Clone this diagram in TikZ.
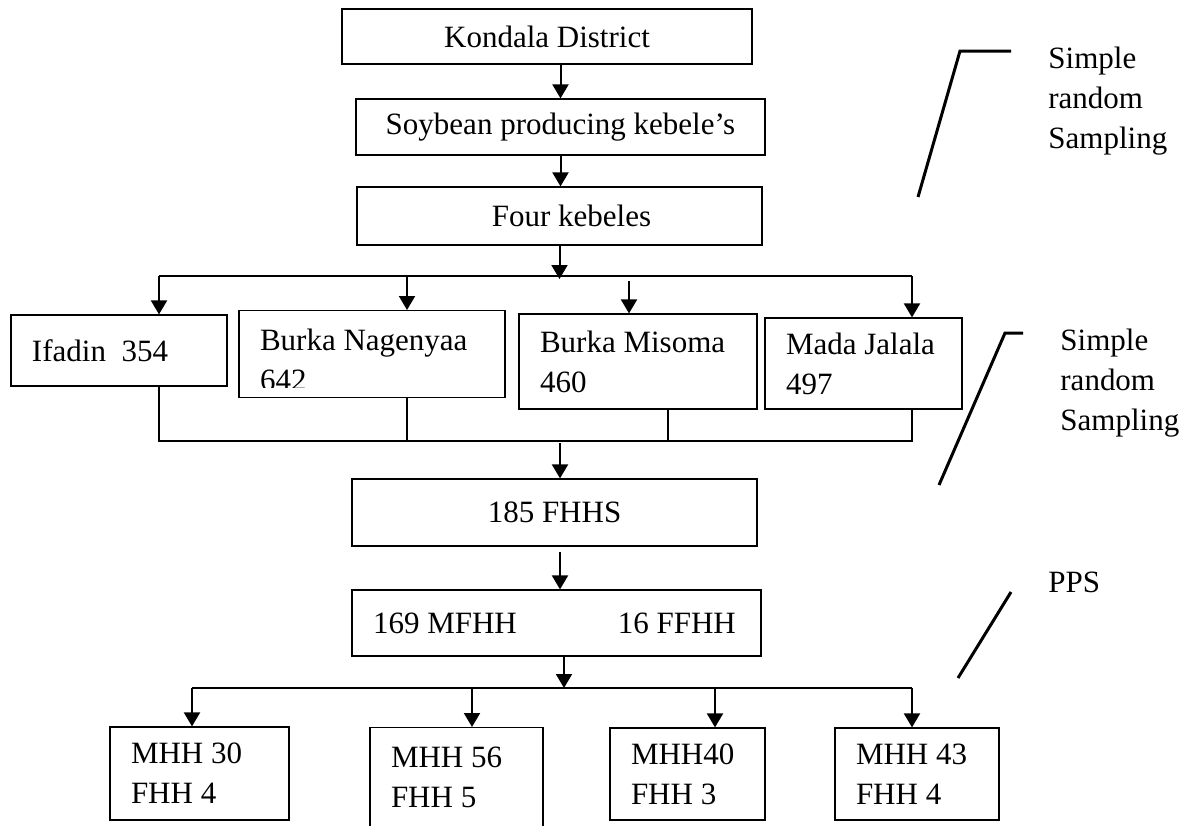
\documentclass[tikz,border=0pt]{standalone}
\usepackage{fontspec}
\setmainfont{Liberation Serif}
\usetikzlibrary{arrows.meta}

\begin{document}
\begin{tikzpicture}[x=0.5pt, y=-0.5pt]
    % Define styles
    \tikzstyle{every node} = [font=\fontsize{15.5}{20}\selectfont]
    \tikzstyle{block} = [rectangle, draw, line width=0.6pt, text centered, inner sep=0pt]
    \tikzstyle{lblock} = [rectangle, draw, line width=0.6pt, align=left, inner xsep=10.5pt, inner ysep=0pt,
        execute at begin node={\spaceskip=0pt\xspaceskip=0pt\relax}]
    \tikzstyle{line} = [draw, line width=1pt, -{Triangle[length=7pt, width=8pt]}]
    \tikzstyle{link} = [draw, line width=0.6pt]
    \tikzstyle{slash} = [draw, line width=1.5pt]

    \useasboundingbox (0,0) rectangle (1194,825);

    % Nodes
    \node [block, minimum width=205pt, minimum height=27.5pt] (kondala) at (547,36.5) {Kondala District};
    \node [block, minimum width=204.5pt, minimum height=28pt] (soybean) at (560.5,127) {Soybean producing kebele’s};
    \node [block, minimum width=202.5pt, minimum height=29pt] (four) at (559.5,216) {\hspace*{12pt}Four kebeles};

    \node [lblock, text width=87pt, minimum height=35.5pt] (ifadin) at (119,350.5) {Ifadin\ \ 354};
    \node [lblock, text width=112pt, text height=20pt, text depth=23.5pt, anchor=north] (nagenyaa) at (372,310) {Burka Nagenyaa\\642};
    \fill [white] ([shift={(1pt,1pt)}]nagenyaa.south west) rectangle ([shift={(-1pt,5pt)}]nagenyaa.south east);
    \node [lblock, text width=98pt, minimum height=47.5pt] (misoma) at (638,361.5) {Burka Misoma\\460};
    \node [lblock, text width=77.5pt, minimum height=45.5pt] (mada) at (863.5,363.5) {Mada Jalala\\497};

    \node [block, minimum width=202.5pt, minimum height=33.5pt] (fhhs) at (554.5,512.5) {185 FHHS};
    \node [lblock, text width=183.5pt, minimum height=33pt] (mfhh) at (556.5,623) {\mbox{169 MFHH\hspace{50.5pt}16 FFHH}};

    \node [lblock, text width=68.5pt, minimum height=46.5pt] (mhh1) at (199.5,773.5) {MHH 30\\FHH 4};
    \node [lblock, text width=65.5pt, text height=20pt, text depth=46.5pt, anchor=north] (mhh2) at (456.5,727) {MHH 56\\FHH 5};
    \node [lblock, text width=56.5pt, minimum height=46pt] (mhh3) at (687.5,774) {MHH40\\FHH 3};
    \node [lblock, text width=61pt, minimum height=46pt] (mhh4) at (917,774) {MHH 43\\FHH 4};

    \node [anchor=north west, inner sep=0pt, align=left] (method1) at (1048,47) {Simple\\random\\Sampling};
    \node [anchor=north west, inner sep=0pt, align=left] (method2) at (1060,329) {Simple\\random\\Sampling};
    \node [anchor=north west, inner sep=0pt] (method3) at (1048,572) {PPS};

    % Junctions
    \coordinate (split) at (560,276);
    \coordinate (s1) at (159,276);
    \coordinate (s2) at (407,276);
    \coordinate (s3) at (629,276);
    \coordinate (s4) at (912,276);
    \coordinate (m1) at (159,441);
    \coordinate (m2) at (407,441);
    \coordinate (m3) at (668,441);
    \coordinate (m4) at (912,441);
    \coordinate (merge) at (560,441);
    \coordinate (drop) at (fhhs.south -| merge);
    \coordinate (split2) at (564,688);
    \coordinate (b1) at (192,688);
    \coordinate (b2) at (472,688);
    \coordinate (b3) at (715,688);
    \coordinate (b4) at (912,688);

    % Connections
    \path [line] (kondala.south -| soybean.north) -- (soybean.north);
    \path [line] (soybean.south) -- (soybean.south |- four.north);
    \path [line] (four.south) -- ([yshift=-1.5pt]four.south |- split);
    \path [link] (s1) -- (s4);
    \path [line] (s1) -- (s1 |- ifadin.north);
    \path [line] (s2) -- (s2 |- nagenyaa.north);
    \path [line] ([yshift=-2.5pt]s3) -- (s3 |- misoma.north);
    \path [line] (s4) -- (s4 |- mada.north);
    \path [link] (m1 |- ifadin.south) -- (m1) -- (m4) -- (m4 |- mada.south);
    \path [link] (m2 |- nagenyaa.south) -- (m2);
    \path [link] (m3 |- misoma.south) -- (m3);
    \path [line] ([yshift=-1pt]merge) -- (merge |- fhhs.north);
    \path [line] ([yshift=-2.5pt]drop) -- (drop |- mfhh.north);
    \path [line] (split2 |- mfhh.south) -- (split2);
    \path [link] (b1) -- (b4);
    \path [line] (b1) -- (b1 |- mhh1.north);
    \path [line] (b2) -- (b2 |- mhh2.north);
    \path [line] (b3) -- (b3 |- mhh3.north);
    \path [line] (b4) -- (b4 |- mhh4.north);

    % Sampling marks
    \path [slash] (918,197) -- (960,51) -- (1011,51);
    \path [slash] (939,485) -- (1005,333) -- (1023,333);
    \path [slash] (958,678) -- (1011,592);
\end{tikzpicture}
\end{document}
